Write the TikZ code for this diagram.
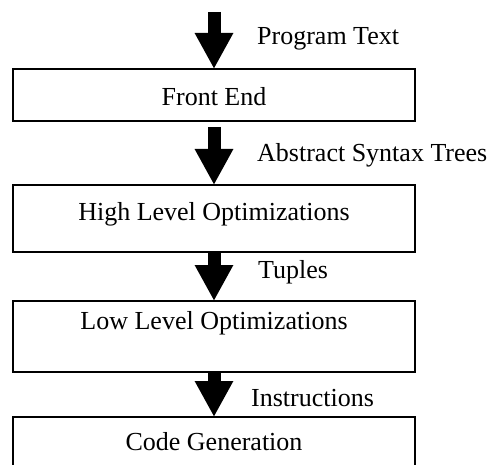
\documentclass[tikz,border=0pt]{standalone}
\usepackage{fontspec}
\setmainfont{Liberation Serif}
\usetikzlibrary{arrows.meta}

\begin{document}
\begin{tikzpicture}[x=1pt, y=-1pt,
		stage/.style={draw, rectangle, line width=1.5pt, minimum width=402pt, inner sep=0pt, outer sep=0pt, font=\fontsize{26}{30}\selectfont},
		flow/.style={line width=13pt, -{Triangle[width=36pt, length=36pt]}},
		tag/.style={anchor=base west, inner sep=0pt, font=\fontsize{26}{30}\selectfont}]
	\useasboundingbox (0,0) rectangle (495,465);
	\clip (0,0) rectangle (495,465);

	% Front End
	\coordinate (input) at (214,12);
	\node[stage, anchor=north, text height=37pt, text depth=15pt] (front) at (214,69) {Front End};
	\draw[flow] (input) -- (front.north);
	\node[tag] (progtext) at (257,45) {Program Text};

	% High Level Optimizations
	\node[stage, anchor=north, text height=36pt, text depth=31pt] (highopt) at (214,185) {High Level Optimizations};
	\draw[flow, shorten <=6pt] (front.south) -- (highopt.north);
	\node[tag] (ast) at (257,162) {Abstract Syntax Trees};

	% Low Level Optimizations
	\node[stage, anchor=north, text height=28pt, text depth=43pt] (lowopt) at (214,301) {Low Level Optimizations};
	\draw[flow] (highopt.south) -- (lowopt.north);
	\node[tag] (tuples) at (258,278) {Tuples};

	% Code Generation
	\node[stage, anchor=north, text height=33pt, text depth=40pt] (codegen) at (214,417) {Code Generation};
	\draw[flow] (lowopt.south) -- (codegen.north);
	\node[tag] (instr) at (251,406) {Instructions};
\end{tikzpicture}
\end{document}
